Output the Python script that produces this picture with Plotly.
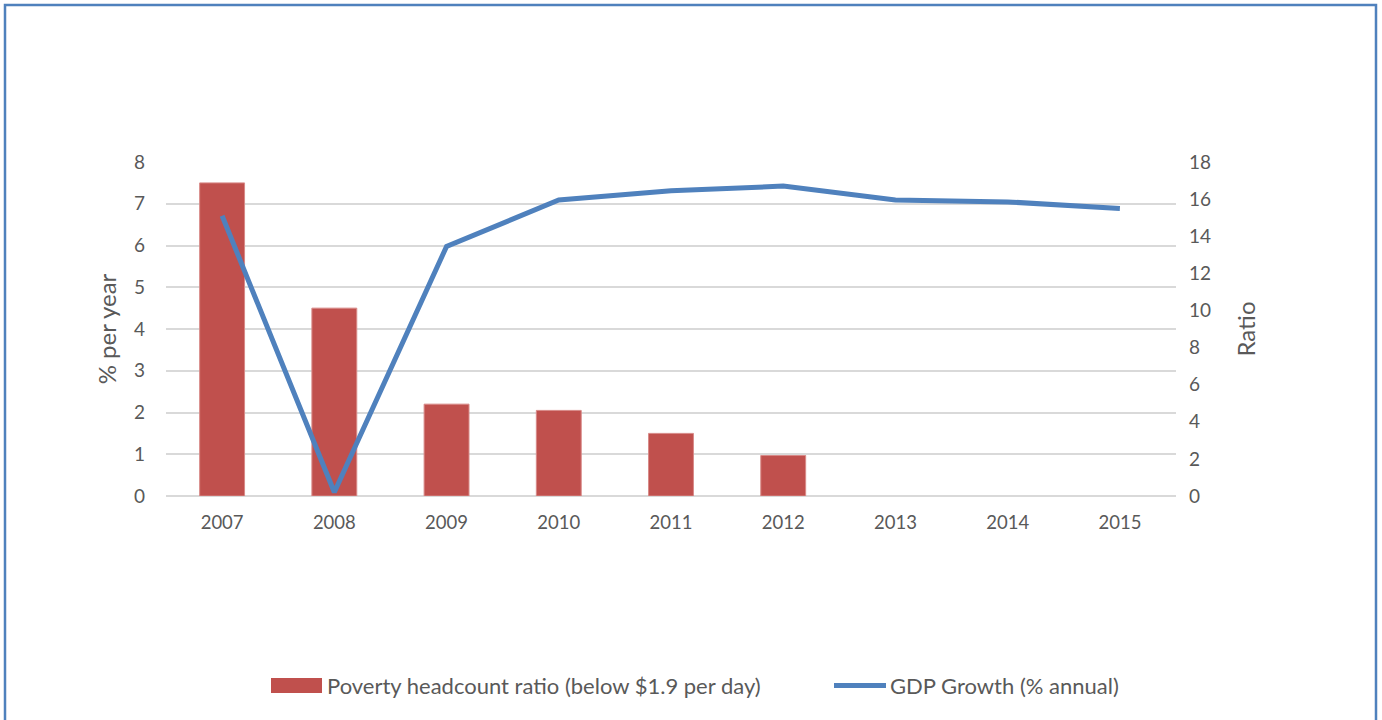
import plotly.graph_objects as go

# Data
years = ["2007", "2008", "2009", "2010", "2011", "2012", "2013", "2014", "2015"]
poverty_ratio = [7.5, 4.5, 2.2, 2.05, 1.5, 0.97, None, None, None]
gdp_growth = [15.1, 0.2, 13.45, 15.95, 16.45, 16.7, 15.95, 15.85, 15.5]

poverty_name = "Poverty headcount ratio (below $1.9 per day)"
gdp_name = "GDP Growth (% annual)"

BAR_COLOR = "#C0504D"
LINE_COLOR = "#4F81BD"
TEXT_COLOR = "#595959"
GRID_COLOR = "#D9D9D9"
FONT = "Lato, 'Open Sans', sans-serif"

W, H = 1382, 720
PL, PR, PT, PB = 166, 1176, 162, 496  # plot area in pixels


def px_x(x):
    return (x - PL) / (PR - PL)


def px_y(y):
    return (PB - y) / (PB - PT)


fig = go.Figure()
fig.add_trace(go.Bar(
    x=years, y=poverty_ratio, name=poverty_name,
    marker=dict(color=BAR_COLOR, line=dict(color="#D88A88", width=1)),
    yaxis="y", showlegend=False,
))
fig.add_trace(go.Scatter(
    x=years, y=gdp_growth, name=gdp_name, mode="lines",
    line=dict(color=LINE_COLOR, width=5),
    yaxis="y2", showlegend=False,
))

# Hand-drawn legend and outer frame
shapes = [
    dict(type="rect", xref="paper", yref="paper",
         x0=px_x(5), x1=px_x(1376), y0=px_y(760), y1=px_y(5),
         line=dict(color=LINE_COLOR, width=2.5), fillcolor="rgba(0,0,0,0)", layer="above"),
    dict(type="rect", xref="paper", yref="paper",
         x0=px_x(271), x1=px_x(322), y0=px_y(693), y1=px_y(678),
         line=dict(width=0), fillcolor=BAR_COLOR),
    dict(type="line", xref="paper", yref="paper",
         x0=px_x(834), x1=px_x(886), y0=px_y(685.5), y1=px_y(685.5),
         line=dict(color=LINE_COLOR, width=5)),
]
annotations = [
    dict(xref="paper", yref="paper", x=px_x(325), y=px_y(685.5), xanchor="left", yanchor="middle",
         text=poverty_name, showarrow=False, font=dict(size=22, color=TEXT_COLOR, family=FONT)),
    dict(xref="paper", yref="paper", x=px_x(888), y=px_y(685.5), xanchor="left", yanchor="middle",
         text=gdp_name, showarrow=False, font=dict(size=22, color=TEXT_COLOR, family=FONT)),
]

fig.update_layout(
    width=W, height=H,
    margin=dict(l=PL, r=W - PR, t=PT, b=H - PB, pad=0),
    paper_bgcolor="white", plot_bgcolor="white",
    font=dict(family=FONT, color=TEXT_COLOR),
    bargap=0.6,
    showlegend=False,
    xaxis=dict(
        type="category", showgrid=False, showline=False, ticks="",
        tickfont=dict(size=18.5, color=TEXT_COLOR), ticklabelstandoff=13,
    ),
    yaxis=dict(
        range=[0, 8], dtick=1, showgrid=True, gridcolor=GRID_COLOR, gridwidth=1.5,
        zeroline=True, zerolinecolor=GRID_COLOR, zerolinewidth=1.5,
        showline=False, ticks="", tickfont=dict(size=19, color=TEXT_COLOR),
        ticklabelstandoff=20,
        title=dict(text="% per year", font=dict(size=24, color=TEXT_COLOR), standoff=10),
    ),
    yaxis2=dict(
        range=[0, 18], dtick=2, overlaying="y", side="right",
        showgrid=False, zeroline=False, showline=False, ticks="",
        tickfont=dict(size=19, color=TEXT_COLOR), ticklabelstandoff=12,
        title=dict(text="Ratio", font=dict(size=24, color=TEXT_COLOR), standoff=28),
    ),
    shapes=shapes,
    annotations=annotations,
)

fig.write_html("out.html")
